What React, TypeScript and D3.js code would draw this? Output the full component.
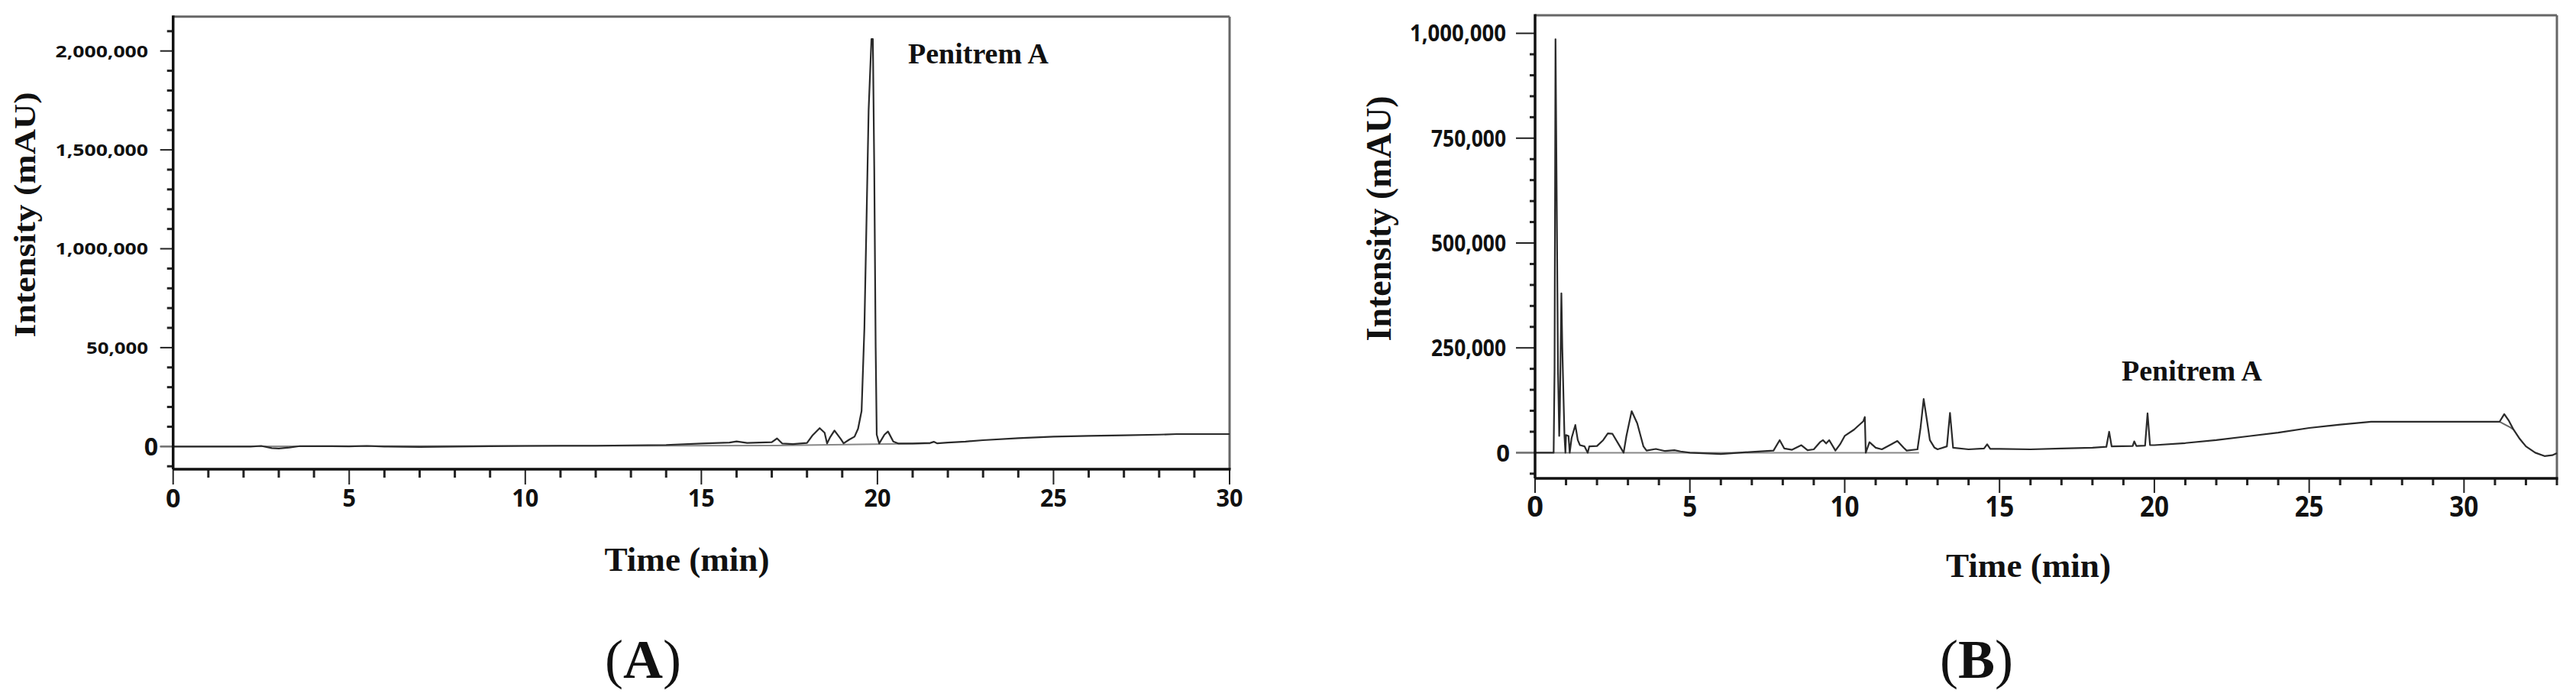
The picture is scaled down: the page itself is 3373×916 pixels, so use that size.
import React from "react";
import * as d3 from "d3";

// ---------- Data ----------
const timeA = [0, 2.2, 2.5, 2.8, 3.0, 3.3, 3.6, 4.5, 5.0, 5.5, 6.0, 7.0, 8.0, 9.0, 10.0, 11.0, 12.0, 13.0, 14.0, 15.0, 15.8, 16.0, 16.3, 17.0, 17.15, 17.3, 17.6, 18.0, 18.15, 18.36, 18.5, 18.57, 18.65, 18.78, 18.95, 19.04, 19.2, 19.35, 19.45, 19.55, 19.63, 19.68, 19.75, 19.83, 19.87, 19.91, 19.95, 19.98, 20.05, 20.2, 20.3, 20.45, 20.6, 21.0, 21.5, 21.6, 21.7, 22.0, 22.5, 23.0, 24.0, 25.0, 26.0, 27.0, 28.0, 28.5, 30.0];
const intensityA = [0, 0, 3000, -8000, -10000, -5000, 2000, 2000, 1000, 3000, 0, -2000, 0, 2000, 3000, 4000, 4000, 6000, 8000, 15000, 20000, 26000, 18000, 22000, 41000, 15000, 12000, 18000, 55000, 93000, 70000, 16000, 45000, 81000, 40000, 16000, 35000, 50000, 90000, 180000, 600000, 1050000, 1700000, 2060000, 2060000, 1400000, 500000, 60000, 15000, 60000, 76000, 25000, 15000, 15000, 18000, 24000, 16000, 20000, 25000, 32000, 42000, 50000, 54000, 57000, 60000, 63000, 63000];
const baselineTimeA = [0, 17, 21.5];
const baselineA = [0, 5000, 16000];

const timeB = [0, 0.6, 0.63, 0.66, 0.7, 0.74, 0.78, 0.8, 0.85, 0.88, 0.92, 0.95, 0.98, 1.0, 1.08, 1.12, 1.18, 1.3, 1.38, 1.45, 1.6, 1.7, 1.75, 2.0, 2.2, 2.35, 2.5, 2.7, 2.86, 2.95, 3.12, 3.3, 3.5, 3.6, 3.9, 4.2, 4.5, 4.7, 5.0, 6.0, 7.0, 7.7, 7.9, 8.05, 8.3, 8.6, 8.8, 9.0, 9.2, 9.3, 9.4, 9.5, 9.7, 9.85, 10.0, 10.3, 10.6, 10.65, 10.68, 10.8, 11.0, 11.2, 11.5, 11.7, 11.9, 12.0, 12.35, 12.45, 12.55, 12.65, 12.75, 12.9, 13.0, 13.3, 13.4, 13.5, 14.0, 14.5, 14.6, 14.7, 15.0, 16.0, 17.0, 18.0, 18.45, 18.54, 18.62, 19.3, 19.35, 19.42, 19.7, 19.78, 19.86, 20.0, 21.0, 22.0, 23.0, 24.0, 25.0, 26.0, 27.0, 28.0, 29.0, 30.0, 31.15, 31.3, 31.45, 31.6, 31.8, 32.0, 32.3, 32.6, 32.85, 33.0];
const intensityB = [0, 0, 200000, 986000, 600000, 200000, 40000, 100000, 380000, 250000, 128000, 40000, 0, 42000, 40000, 0, 35000, 66000, 30000, 18000, 15000, 0, 15000, 16000, 30000, 46000, 45000, 20000, 0, 40000, 99000, 70000, 15000, 5000, 9000, 4000, 6000, 3000, 0, -3000, 2000, 5000, 30000, 10000, 7000, 18000, 6000, 8000, 25000, 30000, 22000, 30000, 5000, 20000, 40000, 55000, 75000, 85000, 0, 25000, 12000, 8000, 20000, 28000, 12000, 5000, 8000, 60000, 128000, 80000, 30000, 12000, 8000, 15000, 95000, 12000, 8000, 10000, 20000, 9000, 9000, 8000, 10000, 12000, 14000, 50000, 15000, 16000, 27000, 16000, 17000, 94000, 18000, 18000, 23000, 30000, 39000, 48000, 59000, 67000, 74000, 74000, 74000, 74000, 74000, 92000, 76000, 55000, 33000, 15000, 0, -8000, -6000, -1000];
const loopTimeB = [31.15, 31.3, 31.5, 31.6];
const loopB = [74000, 68000, 60000, 55000];
const baselineTimeB = [0, 12.4];
const baselineB = [0, 0];

const yTickValuesA = [0, 500000, 1000000, 1500000, 2000000];
const yTickLabelsA = ["0", "50,000", "1,000,000", "1,500,000", "2,000,000"];
const yTickValuesB = [0, 250000, 500000, 750000, 1000000];
const yTickLabelsB = ["0", "250,000", "500,000", "750,000", "1,000,000"];
const xTickValuesA = [0, 5, 10, 15, 20, 25, 30];
const xTickLabelsA = ["0", "5", "10", "15", "20", "25", "30"];
const xTickValuesB = [0, 5, 10, 15, 20, 25, 30];
const xTickLabelsB = ["0", "5", "10", "15", "20", "25", "30"];

const SANS = "'Open Sans', 'Liberation Sans', Arial, sans-serif";
const SERIF = "'Liberation Serif', 'Times New Roman', serif";

type PanelProps = {
  left: number; right: number; top: number; bottom: number;
  xMax: number; yUnit: number; yZeroPx: number; yUnitPx: number;
  time: number[]; intensity: number[];
  baseT: number[]; baseV: number[];
  extraT?: number[]; extraV?: number[];
  yMinor: number[]; xMinor: number[];
  yTicks: number[]; yLabels: string[]; xTicks: number[]; xLabels: string[];
  yMajLen: number; yMinLen: number; xMajLen: number; xMinLen: number;
  yLabelRight: number; yLabelSize: number; yCharW: number;
  yZeroRight: number; yZeroSize: number;
  xLabelY: number; xLabelSize: number; xCharW: number; xZeroSize: number;
  yTitleX: number; yTitleCY: number; yTitleSize: number; yTitleLen: number;
  xTitleCX: number; xTitleY: number;
  peakLabelX: number; peakLabelY: number;
  letter: string; letterCX: number;
};

function Panel(p: PanelProps) {
  const x = d3.scaleLinear().domain([0, p.xMax]).range([p.left, p.right]);
  const y = d3.scaleLinear().domain([0, p.yUnit]).range([p.yZeroPx, p.yZeroPx - p.yUnitPx]);
  const line = d3.line<[number, number]>().x((d) => x(d[0])).y((d) => y(d[1]));
  const trace = line(p.time.map((t, i) => [t, p.intensity[i]] as [number, number])) || "";
  const base = line(p.baseT.map((t, i) => [t, p.baseV[i]] as [number, number])) || "";
  const extra = p.extraT ? line(p.extraT.map((t, i) => [t, p.extraV![i]] as [number, number])) || "" : "";
  const isMajorY = (v: number) => p.yTicks.some((t) => Math.abs(t - v) < 1);
  const isMajorX = (v: number) => p.xTicks.some((t) => Math.abs(t - v) < 1e-6);
  return (
    <g>
      <line x1={p.left} x2={p.right} y1={p.top} y2={p.top} stroke="#666" strokeWidth={3} />
      <line x1={p.right} x2={p.right} y1={p.top} y2={p.bottom} stroke="#666" strokeWidth={3} />
      {p.yMinor.map((v) => (
        <line key={"ym" + v} x1={p.left - (isMajorY(v) ? p.yMajLen : p.yMinLen)} x2={p.left}
          y1={y(v)} y2={y(v)} stroke="#222" strokeWidth={isMajorY(v) ? 2 : 3} />
      ))}
      {p.xMinor.map((v) => (
        <line key={"xm" + v} x1={x(v)} x2={x(v)} y1={p.bottom}
          y2={p.bottom + (isMajorX(v) ? p.xMajLen : p.xMinLen)} stroke="#222" strokeWidth={isMajorX(v) ? 2 : 3} />
      ))}
      <path d={base} fill="none" stroke="#888" strokeWidth={2} />
      <line x1={p.left - p.yMajLen} x2={p.left} y1={y(0)} y2={y(0)} stroke="#777" strokeWidth={2} />
      {extra && <path d={extra} fill="none" stroke="#666" strokeWidth={2} />}
      <path d={trace} fill="none" stroke="#2a2a2a" strokeWidth={2.2} strokeLinejoin="round" />
      <line x1={p.left} x2={p.left} y1={p.top - 1.5} y2={p.bottom} stroke="#111" strokeWidth={3.5} />
      <line x1={p.left} x2={p.right + 1.5} y1={p.bottom} y2={p.bottom} stroke="#111" strokeWidth={3.5} />
      {p.yTicks.map((v, i) => {
        const isZero = v === 0;
        const size = isZero ? p.yZeroSize : p.yLabelSize;
        const xr = isZero ? p.yZeroRight : p.yLabelRight;
        const label = p.yLabels[i];
        const extraProps: any = isZero ? {} : { textLength: label.length * p.yCharW, lengthAdjust: "spacingAndGlyphs" };
        return (
          <text key={"yl" + v} x={xr} y={y(v) + size * 0.36} textAnchor="end" fontFamily={SANS}
            fontWeight={700} fontSize={size} fill="#111" {...extraProps}>
            {label}
          </text>
        );
      })}
      {p.xTicks.map((v, i) => {
        const isZero = v === 0;
        const size = isZero ? p.xZeroSize : p.xLabelSize;
        const label = p.xLabels[i];
        const extraProps: any = isZero ? {} : { textLength: label.length * p.xCharW, lengthAdjust: "spacingAndGlyphs" };
        return (
          <text key={"xl" + v} x={x(v)} y={p.xLabelY + size * 0.36} textAnchor="middle"
            fontFamily={SANS} fontWeight={700} fontSize={size} fill="#111" {...extraProps}>
            {label}
          </text>
        );
      })}
      <text transform={`translate(${p.yTitleX},${p.yTitleCY}) rotate(-90)`} textAnchor="middle"
        fontFamily={SERIF} fontWeight={700} fontSize={p.yTitleSize} fill="#111"
        textLength={p.yTitleLen} lengthAdjust="spacingAndGlyphs">
        Intensity (mAU)
      </text>
      <text x={p.xTitleCX} y={p.xTitleY} textAnchor="middle" fontFamily={SERIF} fontWeight={700}
        fontSize={45} fill="#111" textLength={216} lengthAdjust="spacingAndGlyphs">
        Time (min)
      </text>
      <text x={p.peakLabelX} y={p.peakLabelY} fontFamily={SERIF} fontWeight={700} fontSize={38} fill="#111">
        Penitrem A
      </text>
      <text x={p.letterCX} y={887} textAnchor="middle" fontFamily={SERIF} fontSize={72} fill="#111">
        (<tspan fontWeight={700}>{p.letter}</tspan>)
      </text>
    </g>
  );
}

export default function App() {
  return (
    <svg width={3373} height={916} style={{ position: "absolute", left: 0, top: 0, background: "#fff" }}>
      <rect x={0} y={0} width={3373} height={916} fill="#fff" />
      <Panel
        left={226.7} right={1610} top={21.7} bottom={614}
        xMax={30} yUnit={2000000} yZeroPx={584.3} yUnitPx={517.6}
        time={timeA} intensity={intensityA} baseT={baselineTimeA} baseV={baselineA}
        yMinor={d3.range(-100000, 2100001, 100000)} xMinor={d3.range(0, 31, 1)}
        yTicks={yTickValuesA} yLabels={yTickLabelsA} xTicks={xTickValuesA} xLabels={xTickLabelsA}
        yMajLen={17} yMinLen={8} xMajLen={20} xMinLen={11}
        yLabelRight={194} yLabelSize={22} yCharW={13.5} yZeroRight={207} yZeroSize={32}
        xLabelY={651.5} xLabelSize={32} xCharW={17.5} xZeroSize={34}
        yTitleX={46} yTitleCY={281} yTitleSize={41} yTitleLen={321}
        xTitleCX={899.5} xTitleY={747}
        peakLabelX={1189} peakLabelY={83}
        letter="A" letterCX={842}
      />
      <Panel
        left={2010} right={3348} top={20} bottom={626}
        xMax={33} yUnit={1000000} yZeroPx={592.4} yUnitPx={548.8}
        time={timeB} intensity={intensityB} baseT={baselineTimeB} baseV={baselineB}
        extraT={loopTimeB} extraV={loopB}
        yMinor={d3.range(-50000, 1000001, 50000)} xMinor={d3.range(0, 34, 1)}
        yTicks={yTickValuesB} yLabels={yTickLabelsB} xTicks={xTickValuesB} xLabels={xTickLabelsB}
        yMajLen={25} yMinLen={7} xMajLen={19} xMinLen={9}
        yLabelRight={1972} yLabelSize={30} yCharW={14} yZeroRight={1977} yZeroSize={31}
        xLabelY={662} xLabelSize={38} xCharW={19} xZeroSize={38}
        yTitleX={1821} yTitleCY={286} yTitleSize={46} yTitleLen={321}
        xTitleCX={2656} xTitleY={755}
        peakLabelX={2778} peakLabelY={498}
        letter="B" letterCX={2588}
      />
    </svg>
  );
}
